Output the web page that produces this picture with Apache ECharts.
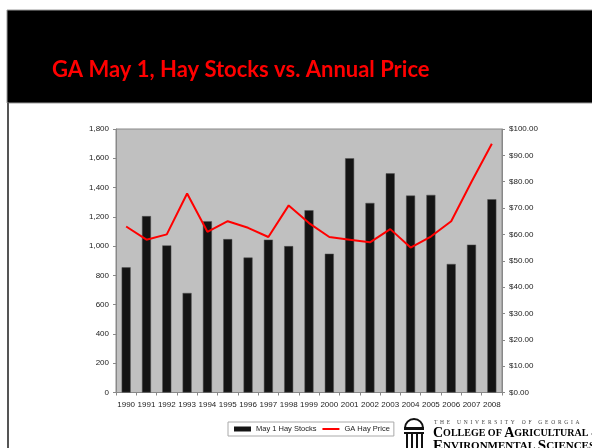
<!DOCTYPE html>
<html>
<head>
<meta charset="utf-8">
<script src="https://cdn.jsdelivr.net/npm/echarts@6/dist/echarts.min.js"></script>
<style>
html,body{margin:0;padding:0;background:#fff;}
#chart{width:592px;height:448px;}
</style>
</head>
<body>
<div id="chart"></div>
<script>
// ---- data ----
const years = ['1990','1991','1992','1993','1994','1995','1996','1997','1998','1999','2000','2001','2002','2003','2004','2005','2006','2007','2008'];
const hayStocks = [855, 1205, 1005, 680, 1170, 1048, 922, 1044, 1000, 1245, 948, 1600, 1295, 1497, 1345, 1350, 878, 1010, 1320];
const hayPrice = [63.0, 58.0, 60.0, 75.5, 61.0, 65.0, 62.5, 59.0, 71.0, 64.3, 59.0, 58.0, 57.0, 62.0, 55.0, 59.2, 65.0, 80.0, 94.4];
const leftTicks = {min: 0, max: 1800, interval: 200};
const rightTicks = {min: 0, max: 100, interval: 10};
const titleText = 'GA May 1, Hay Stocks vs. Annual Price';
const seriesNames = ['May 1 Hay Stocks', 'GA Hay Price'];

const chart = echarts.init(document.getElementById('chart'), null, {renderer: 'canvas'});
const axisFont = {fontFamily: 'Liberation Sans, Arial, sans-serif', fontSize: 8, color: '#222'};

chart.setOption({
  backgroundColor: '#ffffff',
  animation: false,
  graphic: [
    {type: 'rect', shape: {x: 7, y: 10, width: 600, height: 93}, style: {fill: '#000', stroke: '#999', lineWidth: 1}, z: 0},
    {type: 'line', shape: {x1: 8, y1: 103, x2: 8, y2: 448}, style: {stroke: '#555', lineWidth: 2}},
    {type: 'text', left: 52, top: 59, style: {text: titleText, fill: '#ff0000', font: 'bold 22px Lato, "Open Sans", sans-serif'}},
    // logo arch
    {type: 'arc', shape: {cx: 414, cy: 428, r: 9, startAngle: Math.PI, endAngle: 2 * Math.PI}, style: {stroke: '#111', lineWidth: 2, fill: null}},
    {type: 'rect', shape: {x: 404, y: 427, width: 20, height: 3}, style: {fill: '#111'}},
    {type: 'rect', shape: {x: 404, y: 432, width: 20, height: 2}, style: {fill: '#111'}},
    {type: 'rect', shape: {x: 406, y: 434, width: 2, height: 14}, style: {fill: '#111'}},
    {type: 'rect', shape: {x: 411, y: 434, width: 2, height: 14}, style: {fill: '#111'}},
    {type: 'rect', shape: {x: 416, y: 434, width: 2, height: 14}, style: {fill: '#111'}},
    {type: 'rect', shape: {x: 421, y: 434, width: 2, height: 14}, style: {fill: '#111'}},
    {type: 'text', left: 434, top: 420, style: {text: 'T  H  E     U  N  I  V  E  R  S  I  T  Y     O  F     G  E  O  R  G  I  A', fill: '#444', font: '5.5px "Liberation Serif", serif'}},
    {type: 'text', left: 433, top: 426, style: {
      text: '{b|C}{s|OLLEGE OF }{b|A}{s|GRICULTURAL &}',
      rich: {b: {fontSize: 14, fontFamily: 'Liberation Serif', color: '#222', fontWeight: 'bold'},
             s: {fontSize: 10, fontFamily: 'Liberation Serif', color: '#222', fontWeight: 'bold'}}
    }},
    {type: 'text', left: 433, top: 439, style: {
      text: '{b|E}{s|NVIRONMENTAL }{b|S}{s|CIENCES}',
      rich: {b: {fontSize: 15, fontFamily: 'Liberation Serif', color: '#222', fontWeight: 'bold'},
             s: {fontSize: 11, fontFamily: 'Liberation Serif', color: '#222', fontWeight: 'bold'}}
    }}
  ],
  legend: {
    left: 228, top: 422,
    orient: 'horizontal',
    padding: [3, 4, 3, 6],
    borderColor: '#aaa', borderWidth: 1,
    backgroundColor: '#fff',
    itemWidth: 17, itemHeight: 5, itemGap: 6,
    textStyle: {fontFamily: 'Liberation Sans, Arial, sans-serif', fontSize: 7.5, color: '#222'},
    data: [
      {name: seriesNames[0], icon: 'rect', itemStyle: {borderWidth: 0, color: '#141414'}},
      {name: seriesNames[1], icon: 'path://M0,0H17V2H0Z', itemStyle: {color: '#ff0000'}}
    ]
  },
  grid: {
    left: 116, right: 90, top: 129, bottom: 55.5,
    show: true, backgroundColor: '#c0c0c0', borderColor: '#888', borderWidth: 1,
    containLabel: false
  },
  xAxis: {
    type: 'category', data: years, boundaryGap: true,
    axisLine: {lineStyle: {color: '#888'}},
    axisTick: {show: true, length: 3, lineStyle: {color: '#888'}},
    axisLabel: Object.assign({margin: 8, interval: 0}, axisFont),
    splitLine: {show: false}
  },
  yAxis: [
    {
      type: 'value', min: leftTicks.min, max: leftTicks.max, interval: leftTicks.interval,
      axisLine: {show: true, lineStyle: {color: '#888'}},
      axisTick: {show: true, length: 3, lineStyle: {color: '#888'}},
      axisLabel: Object.assign({margin: 7, formatter: v => v.toLocaleString('en-US')}, axisFont),
      splitLine: {show: false}
    },
    {
      type: 'value', min: rightTicks.min, max: rightTicks.max, interval: rightTicks.interval,
      position: 'right',
      axisLine: {show: true, lineStyle: {color: '#888'}},
      axisTick: {show: true, length: 3, lineStyle: {color: '#888'}},
      axisLabel: Object.assign({margin: 7, formatter: v => '$' + v.toFixed(2)}, axisFont),
      splitLine: {show: false}
    }
  ],
  series: [
    {
      name: seriesNames[0], type: 'bar', data: hayStocks, yAxisIndex: 0,
      barWidth: 9,
      itemStyle: {color: '#141414', borderColor: '#555', borderWidth: 0.5}
    },
    {
      name: seriesNames[1], type: 'line', data: hayPrice, yAxisIndex: 1,
      symbol: 'none', lineStyle: {color: '#ff0000', width: 2}, itemStyle: {color: '#ff0000'}
    }
  ]
});
</script>
</body>
</html>
